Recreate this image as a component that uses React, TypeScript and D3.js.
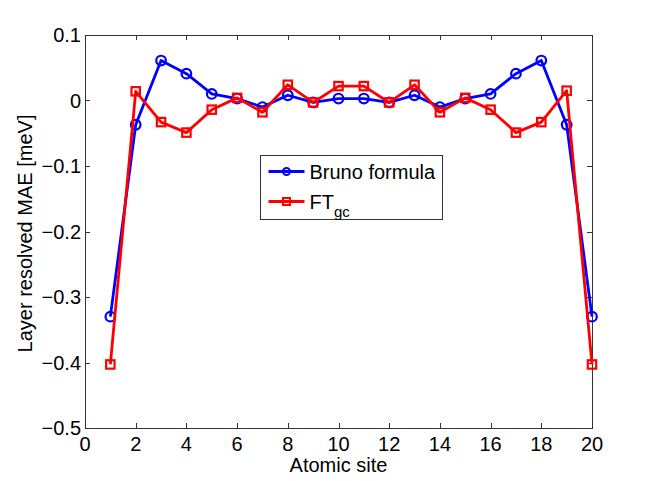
import React, { useEffect, useRef } from 'react';
import * as d3 from 'd3';

// values
const sites = [1, 2, 3, 4, 5, 6, 7, 8, 9, 10, 11, 12, 13, 14, 15, 16, 17, 18, 19, 20];
const bruno = [-0.33, -0.037, 0.061, 0.041, 0.01, 0.003, -0.01, 0.008, -0.003, 0.003,
  0.003, -0.003, 0.008, -0.01, 0.003, 0.01, 0.041, 0.061, -0.037, -0.33];
const ftgc = [-0.403, 0.014, -0.033, -0.049, -0.014, 0.004, -0.018, 0.024, -0.003, 0.022,
  0.022, -0.003, 0.024, -0.018, 0.004, -0.014, -0.049, -0.033, 0.015, -0.403];
const xTicks = [0, 2, 4, 6, 8, 10, 12, 14, 16, 18, 20];
const yTicks = [0.1, 0, -0.1, -0.2, -0.3, -0.4, -0.5];

const W = 654;
const H = 481;
const margin = { top: 35, right: 62, bottom: 53, left: 85 };

const fmt = (v: number) => (v === 0 ? '0' : d3.format('.1f')(v).replace('-', '\u2212'));

export default function App() {
  const ref = useRef<SVGSVGElement>(null);

  useEffect(() => {
    const svg = d3.select(ref.current);
    svg.selectAll('*').remove();

    const iw = W - margin.left - margin.right;
    const ih = H - margin.top - margin.bottom;
    const x = d3.scaleLinear().domain([0, 20]).range([0, iw]);
    const y = d3.scaleLinear().domain([-0.5, 0.1]).range([ih, 0]);

    const g = svg.append('g').attr('transform', `translate(${margin.left},${margin.top})`);
    const font = 'Liberation Sans, Arial, sans-serif';
    const fs = 20;

    // box
    g.append('rect')
      .attr('x', 0.5).attr('y', 0.5)
      .attr('width', iw).attr('height', ih)
      .attr('fill', 'white').attr('stroke', '#333').attr('stroke-width', 1);

    // ticks (inward, on all four sides)
    xTicks.forEach(t => {
      const px = Math.round(x(t)) + 0.5;
      g.append('line').attr('x1', px).attr('x2', px).attr('y1', ih).attr('y2', ih - 5).attr('stroke', '#333');
      g.append('line').attr('x1', px).attr('x2', px).attr('y1', 0).attr('y2', 5).attr('stroke', '#333');
      g.append('text')
        .attr('x', x(t)).attr('y', ih + 23)
        .attr('text-anchor', 'middle')
        .attr('font-family', font).attr('font-size', fs)
        .text(t);
    });
    yTicks.forEach(t => {
      const py = Math.round(y(t)) + 0.5;
      g.append('line').attr('x1', 0).attr('x2', 5).attr('y1', py).attr('y2', py).attr('stroke', '#333');
      g.append('line').attr('x1', iw).attr('x2', iw - 5).attr('y1', py).attr('y2', py).attr('stroke', '#333');
      g.append('text')
        .attr('x', -4).attr('y', y(t) + 7)
        .attr('text-anchor', 'end')
        .attr('font-family', font).attr('font-size', fs)
        .text(fmt(t));
    });

    // axis labels
    svg.append('text')
      .attr('x', margin.left + iw / 2).attr('y', 472)
      .attr('text-anchor', 'middle')
      .attr('font-family', font).attr('font-size', fs)
      .text('Atomic site');
    svg.append('text')
      .attr('transform', `translate(32,${margin.top + ih / 2 + 2}) rotate(-90)`)
      .attr('text-anchor', 'middle')
      .attr('font-family', font).attr('font-size', fs)
      .text('Layer resolved MAE [meV]');

    const line = d3.line<number>().x((_, i) => x(sites[i])).y(d => y(d));

    // series
    const series = [
      { data: bruno, color: '#0000ff', marker: 'circle' },
      { data: ftgc, color: '#ff0000', marker: 'square' },
    ];
    series.forEach(s => {
      g.append('path')
        .attr('d', line(s.data))
        .attr('fill', 'none')
        .attr('stroke', s.color)
        .attr('stroke-width', 2.8)
        .attr('stroke-linejoin', 'round');
      if (s.marker === 'circle') {
        g.selectAll(null).data(s.data).enter().append('circle')
          .attr('cx', (_, i) => x(sites[i])).attr('cy', d => y(d))
          .attr('r', 4.8)
          .attr('fill', 'none').attr('stroke', s.color).attr('stroke-width', 2.2);
      } else {
        g.selectAll(null).data(s.data).enter().append('rect')
          .attr('x', (_, i) => x(sites[i]) - 4.2).attr('y', d => y(d) - 4.2)
          .attr('width', 8.4).attr('height', 8.4)
          .attr('fill', 'none').attr('stroke', s.color).attr('stroke-width', 2.2);
      }
    });

    // legend
    const lg = svg.append('g').attr('transform', 'translate(260.5,155.5)');
    lg.append('rect').attr('width', 182).attr('height', 64)
      .attr('fill', 'white').attr('stroke', '#333');
    const rows = [
      { label: 'Bruno formula', color: '#0000ff', marker: 'circle', yy: 16 },
      { label: 'FT', sub: 'gc', color: '#ff0000', marker: 'square', yy: 46 },
    ];
    rows.forEach(r => {
      lg.append('line').attr('x1', 8).attr('x2', 44).attr('y1', r.yy).attr('y2', r.yy)
        .attr('stroke', r.color).attr('stroke-width', 2.8);
      if (r.marker === 'circle') {
        lg.append('circle').attr('cx', 26).attr('cy', r.yy).attr('r', 3.5)
          .attr('fill', 'none').attr('stroke', r.color).attr('stroke-width', 2);
      } else {
        lg.append('rect').attr('x', 22.5).attr('y', r.yy - 3.5).attr('width', 7).attr('height', 7)
          .attr('fill', 'none').attr('stroke', r.color).attr('stroke-width', 2);
      }
      const t = lg.append('text')
        .attr('x', 49).attr('y', r.yy + 7)
        .attr('font-family', font).attr('font-size', fs)
        .text(r.label);
      if (r.sub) {
        t.append('tspan').attr('dy', 8).attr('font-size', 15).text(r.sub);
      }
    });
  }, []);

  return (
    <svg ref={ref} width={W} height={H}
      style={{ position: 'absolute', left: 0, top: 0, background: 'white' }} />
  );
}
